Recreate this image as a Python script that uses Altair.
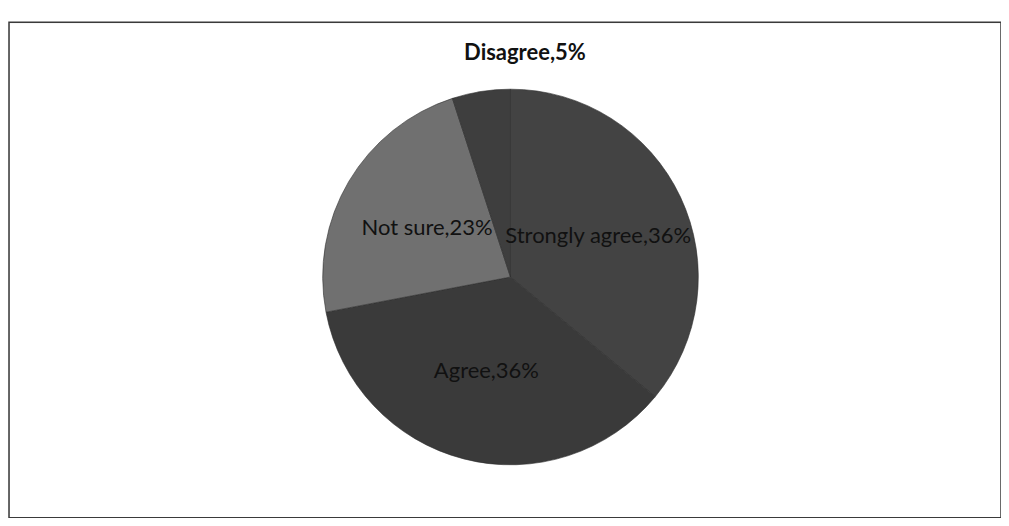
import altair as alt
import pandas as pd

categories = ["Strongly agree", "Agree", "Not sure", "Disagree"]
values = [36, 36, 23, 5]
inner_labels = ["Strongly agree,36%", "Agree,36%", "Not sure,23%", ""]
outer_labels = ["", "", "", "Disagree,5%"]
colors = ["#434343", "#3a3a3a", "#707070", "#3e3e3e"]

df = pd.DataFrame({
    "category": categories,
    "value": values,
    "inner": inner_labels,
    "outer": outer_labels,
    "order": list(range(len(categories))),
})

W, H = 993, 496
cx, cy = 502, 255

base = alt.Chart(df).encode(
    theta=alt.Theta("value:Q", stack=True),
    order=alt.Order("order:Q"),
)

pie = base.mark_arc(outerRadius=188, x=cx, y=cy, stroke="#2e2e2e", strokeWidth=0.6).encode(
    color=alt.Color("category:N", scale=alt.Scale(domain=categories, range=colors), legend=None)
)

inner = base.mark_text(radius=97, x=cx, y=cy, font="Lato", fontSize=22, color="#111111").encode(
    text="inner:N"
)

outer = base.mark_text(radius=227, x=cx, y=cy, dx=50, font="Lato", fontSize=22,
                       fontWeight="bold", color="#111111").encode(
    text="outer:N"
)

frame = alt.Chart(pd.DataFrame({"f": [0]})).mark_rect(
    fill=None, stroke="#3a3a3a", strokeWidth=1.5
).encode(
    x=alt.value(0), x2=alt.value(W), y=alt.value(0), y2=alt.value(H)
)

chart = alt.layer(frame, pie, inner, outer).properties(
    width=W, height=H,
    padding={"top": 14, "left": 1, "right": 0, "bottom": 0},
    autosize=alt.AutoSizeParams(type="none"),
).configure_view(strokeWidth=0).configure(background="#ffffff")

chart.save("out.html", embed_options={"renderer": "svg", "actions": False})
